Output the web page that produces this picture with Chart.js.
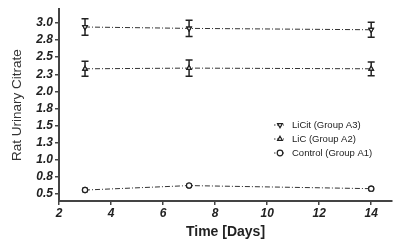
<!DOCTYPE html>
<html><head><meta charset="utf-8">
<script src="https://cdn.jsdelivr.net/npm/chart.js@4"></script>
<style>html,body{margin:0;padding:0;background:#fff}#w{width:398px;height:247px}</style>
</head><body><div id="w"><canvas id="c" width="398" height="247"></canvas></div>
<script>
const days=[3,7,14];
const licit=[2.94,2.92,2.90];
const licitErr=[0.12,0.12,0.11];
const lic=[2.33,2.34,2.33];
const licErr=[0.11,0.12,0.10];
const control=[0.56,0.625,0.58];
const controlErr=[0,0,0];
const seriesLabels=['LiCit (Group A3)','LiC (Group A2)','Control (Group A1)'];
const yTickValues=[0.5,0.75,1,1.25,1.5,1.75,2,2.25,2.5,2.75,3];
const yTickLabels=['0.5','0.8','1.0','1.3','1.5','1.8','2.0','2.3','2.5','2.8','3.0'];
const xTickValues=[2,4,6,8,10,12,14];

const DASH=[5,2,1,2];
function mk(label,vals,err,style,rot){
  return {label,data:days.map((d,i)=>({x:d,y:vals[i]})),err,
    borderColor:'#333',borderWidth:1,borderDash:DASH,
    pointStyle:style,pointRotation:rot,pointRadius:2.6,
    pointBackgroundColor:'#fff',pointBorderColor:'#222',pointBorderWidth:1.2,
    fill:false,tension:0};
}
const errPlugin={id:'err',afterDatasetsDraw(ch){
  const ctx=ch.ctx,xs=ch.scales.x,ys=ch.scales.y;
  ctx.save();ctx.strokeStyle='#222';ctx.lineWidth=1.5;ctx.setLineDash([]);
  ch.data.datasets.forEach(ds=>{
    ds.data.forEach((p,i)=>{
      const e=ds.err[i]; if(!e) return;
      const x=xs.getPixelForValue(p.x),y1=ys.getPixelForValue(p.y+e),y2=ys.getPixelForValue(p.y-e);
      ctx.beginPath();ctx.moveTo(x,y1);ctx.lineTo(x,y2);
      ctx.moveTo(x-3.5,y1);ctx.lineTo(x+3.5,y1);
      ctx.moveTo(x-3.5,y2);ctx.lineTo(x+3.5,y2);ctx.stroke();
    });
  });
  ch.data.datasets.forEach((ds,di)=>{ch.getDatasetMeta(di).data.forEach(el=>el.draw(ctx));});
  ctx.restore();
}};
const legendPlugin={id:'lg',afterDraw(ch){
  const ctx=ch.ctx;
  const x0=274,tx=292,ys=[125,139,153];
  ctx.save();
  ch.data.datasets.forEach((ds,i)=>{
    const y=ys[i];
    ctx.strokeStyle='#333';ctx.lineWidth=1;ctx.setLineDash([1.5,1.5]);
    ctx.beginPath();ctx.moveTo(x0,y);ctx.lineTo(x0+10,y);ctx.stroke();
    ctx.setLineDash([]);
    ctx.fillStyle='#fff';ctx.strokeStyle='#222';ctx.lineWidth=1.2;
    Chart.helpers.drawPoint(ctx,{pointStyle:ds.pointStyle,rotation:ds.pointRotation,radius:2.8,borderWidth:1.2},x0+6,y);
    ctx.fillStyle='#222';ctx.font='9.5px "Liberation Sans", Arial, sans-serif';
    ctx.textBaseline='middle';ctx.textAlign='left';
    ctx.fillText(ds.label,tx,y+0.5);
  });
  ctx.restore();
}};
const tickFont={family:'"Liberation Sans", Arial, sans-serif',size:12,weight:'bold',style:'italic'};
new Chart(document.getElementById('c'),{
  type:'line',
  data:{datasets:[
    mk(seriesLabels[0],licit,licitErr,'triangle',180),
    mk(seriesLabels[1],lic,licErr,'triangle',0),
    mk(seriesLabels[2],control,controlErr,'circle',0)
  ]},
  options:{responsive:false,animation:false,devicePixelRatio:1,
    layout:{padding:{top:6,right:6,left:0,bottom:0}},
    plugins:{legend:{display:false},tooltip:{enabled:false}},
    scales:{
      x:{type:'linear',min:2,max:14.8,
        afterBuildTicks:s=>{s.ticks=xTickValues.map(v=>({value:v}));},
        afterFit:s=>{s.height=46;},
        grid:{drawOnChartArea:false,drawTicks:true,tickLength:4,color:'#444',lineWidth:1.5},
        border:{color:'#444',width:2},
        ticks:{color:'#222',font:tickFont,padding:1,maxRotation:0,autoSkip:false},
        title:{display:true,text:'Time [Days]',color:'#222',font:{family:'"Liberation Sans", Arial, sans-serif',size:14,weight:'bold'},padding:{top:0,bottom:6}}
      },
      y:{type:'linear',min:0.4,max:3.2,
        afterBuildTicks:s=>{s.ticks=yTickValues.map(v=>({value:v}));},
        afterFit:s=>{s.width=59;},
        grid:{drawOnChartArea:false,drawTicks:true,tickLength:4,color:'#444',lineWidth:1.5},
        border:{color:'#444',width:2},
        ticks:{color:'#222',font:tickFont,padding:2,autoSkip:false,
          callback:(v)=>{const i=yTickValues.indexOf(v);return i>=0?yTickLabels[i]:'';}},
        title:{display:true,text:'Rat Urinary Citrate',color:'#333',font:{family:'"Liberation Sans", Arial, sans-serif',size:13.5},padding:{top:9,bottom:0}}
      }
    }
  },
  plugins:[errPlugin,legendPlugin]
});
</script></body></html>
